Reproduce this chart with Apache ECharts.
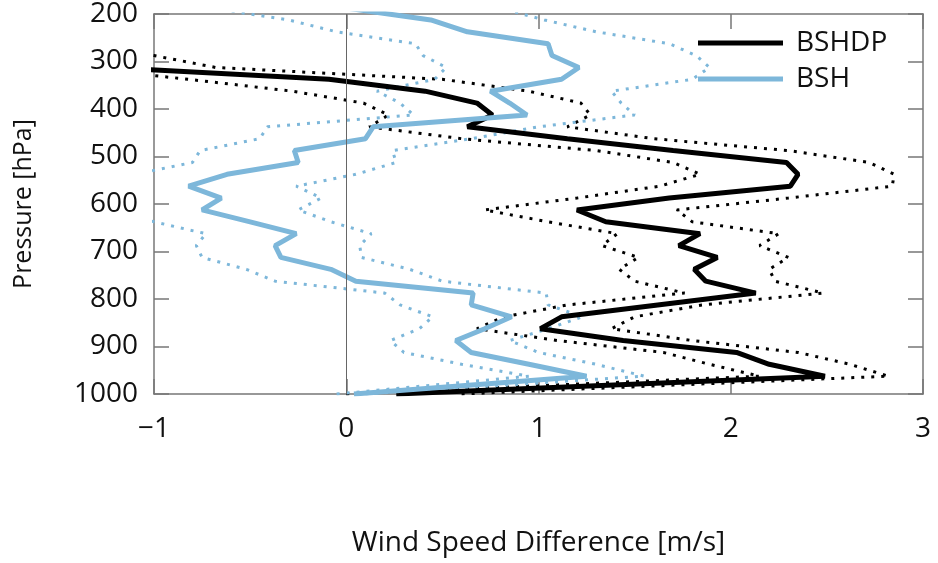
<!DOCTYPE html>
<html>
<head>
<meta charset="UTF-8">
<script src="https://cdn.jsdelivr.net/npm/echarts@6/dist/echarts.min.js"></script>
<style>
  html, body { margin: 0; padding: 0; background: #fff; }
  #main { width: 938px; height: 563px; }
</style>
</head>
<body>
<div id="main"></div>
<script>
// pressure levels (hPa), bottom to top
const levels = [1000, 962.5, 937.5, 912.5, 887.5, 862.5, 837.5, 812.5, 787.5, 762.5, 737.5,
  712.5, 687.5, 662.5, 637.5, 612.5, 587.5, 562.5, 537.5, 512.5, 487.5, 462.5, 437.5,
  412.5, 387.5, 362.5, 337.5, 312.5, 287.5, 262.5, 237.5, 212.5, 187.5];

// wind speed difference [m/s]
const bshdpMean = [0.26, 2.49, 2.20, 2.03, 1.44, 1.01, 1.12, 1.62, 2.13, 1.87, 1.81,
  1.93, 1.73, 1.84, 1.35, 1.20, 1.68, 2.31, 2.35, 2.29, 1.70, 1.15, 0.63,
  0.76, 0.68, 0.41, -0.09, -1.25, null, null, null, null, null];
const bshdpHigh = [0.60, 2.82, 2.62, 2.35, 1.80, 1.38, 1.50, 1.85, 2.48, 2.23, 2.20,
  2.30, 2.15, 2.25, 1.80, 1.72, 2.30, 2.84, 2.85, 2.72, 2.30, 1.60, 1.15,
  1.27, 1.22, 0.95, 0.50, -0.68, -1.00, -1.40, null, null, null];
const bshdpLow = [0.00, 2.15, 1.89, 1.65, 1.10, 0.68, 0.82, 1.15, 1.76, 1.50, 1.42,
  1.52, 1.33, 1.41, 1.05, 0.72, 1.20, 1.63, 1.84, 1.70, 1.30, 0.60, 0.12,
  0.22, 0.09, -0.28, -0.82, -1.40, null, null, null, null, null];

const bshMean = [0.04, 1.25, 0.95, 0.65, 0.57, 0.72, 0.86, 0.65, 0.66, 0.05, -0.08,
  -0.34, -0.37, -0.26, -0.50, -0.75, -0.65, -0.82, -0.62, -0.25, -0.27, 0.10, 0.14,
  0.94, 0.85, 0.75, 1.12, 1.21, 1.07, 1.05, 0.63, 0.44, 0.00];
const bshHigh = [0.10, 1.55, 1.30, 1.00, 0.85, 1.05, 1.23, 1.05, 1.04, 0.50, 0.33,
  0.08, 0.07, 0.13, -0.08, -0.25, -0.13, -0.26, 0.05, 0.26, 0.24, 0.65, 1.00,
  1.50, 1.43, 1.38, 1.80, 1.89, 1.82, 1.68, 1.30, 1.03, 0.80];
const bshLow = [-0.05, 0.95, 0.60, 0.30, 0.23, 0.38, 0.45, 0.28, 0.20, -0.37, -0.52,
  -0.75, -0.78, -0.73, -1.00, -1.25, -1.15, -1.35, -1.10, -0.80, -0.76, -0.45, -0.41,
  0.35, 0.28, 0.16, 0.46, 0.52, 0.40, 0.36, -0.05, -0.30, -0.70];

const xTicks = [-1, 0, 1, 2, 3];
const yTicks = [200, 300, 400, 500, 600, 700, 800, 900, 1000];

const FONT = 'Open Sans';
const FS = 28;
const BLACK = '#000000';
const BLUE = '#7db7da';
const FRAME = '#777777';

function pairs(xs) {
  return xs.map((x, i) => [x === null ? '-' : x, levels[i]]);
}

function dotted(name, xs, color) {
  return {
    name: name, type: 'line', data: pairs(xs), symbol: 'none', z: 2,
    lineStyle: { color: color, width: 3, type: [3, 7] },
    itemStyle: { color: color }, silent: true
  };
}

function solid(name, xs, color) {
  return {
    name: name, type: 'line', data: pairs(xs), symbol: 'none', z: 3,
    lineStyle: { color: color, width: 5 },
    itemStyle: { color: color }, silent: true
  };
}

const frameAxis = {
  axisLine: { show: true, onZero: false, lineStyle: { color: FRAME, width: 1.5 } },
  axisTick: { show: true, inside: true, length: 15, lineStyle: { color: FRAME, width: 1.5 } },
  splitLine: { show: false }
};

const chart = echarts.init(document.getElementById('main'));
chart.setOption({
  animation: false,
  backgroundColor: '#fff',
  grid: { left: 154, right: 15, top: 10, bottom: 169 },
  legend: {
    data: ['BSHDP', 'BSH'], orient: 'vertical', left: 693, top: 24,
    icon: 'rect', itemWidth: 85, itemHeight: 5, itemGap: 8, selectedMode: false,
    textStyle: { fontSize: FS, color: '#111', fontFamily: FONT, padding: [0, 0, 0, 8] }
  },
  xAxis: [
    Object.assign({
      type: 'value', min: xTicks[0], max: xTicks[xTicks.length - 1], interval: 1,
      position: 'bottom',
      name: 'Wind Speed Difference [m/s]', nameLocation: 'middle', nameGap: 135,
      nameTextStyle: { fontSize: FS, color: '#111', fontFamily: FONT },
      axisLabel: {
        fontSize: FS, color: '#111', fontFamily: FONT, margin: 21,
        formatter: v => String(v).replace('-', '\u2212')
      }
    }, frameAxis),
    Object.assign({
      type: 'value', min: xTicks[0], max: xTicks[xTicks.length - 1], interval: 1,
      position: 'top', axisLabel: { show: false }
    }, frameAxis)
  ],
  yAxis: [
    Object.assign({
      type: 'value', inverse: true, min: yTicks[0], max: yTicks[yTicks.length - 1], interval: 100,
      position: 'left',
      name: 'Pressure [hPa]', nameLocation: 'middle', nameGap: 118,
      nameTextStyle: { fontSize: 25, color: '#111', fontFamily: FONT },
      axisLabel: { fontSize: FS, color: '#111', fontFamily: FONT, margin: 16, formatter: v => String(v) }
    }, frameAxis),
    Object.assign({
      type: 'value', inverse: true, min: yTicks[0], max: yTicks[yTicks.length - 1], interval: 100,
      position: 'right', axisLabel: { show: false }
    }, frameAxis)
  ],
  series: [
    {
      name: 'zero', type: 'line', data: [], z: 1, silent: true,
      markLine: {
        silent: true, symbol: 'none', label: { show: false },
        lineStyle: { color: '#666', width: 1, type: 'solid' },
        data: [{ xAxis: 0 }]
      }
    },
    dotted('BSHDP high', bshdpHigh, BLACK),
    dotted('BSHDP low', bshdpLow, BLACK),
    dotted('BSH high', bshHigh, BLUE),
    dotted('BSH low', bshLow, BLUE),
    solid('BSHDP', bshdpMean, BLACK),
    solid('BSH', bshMean, BLUE)
  ]
});
</script>
</body>
</html>
